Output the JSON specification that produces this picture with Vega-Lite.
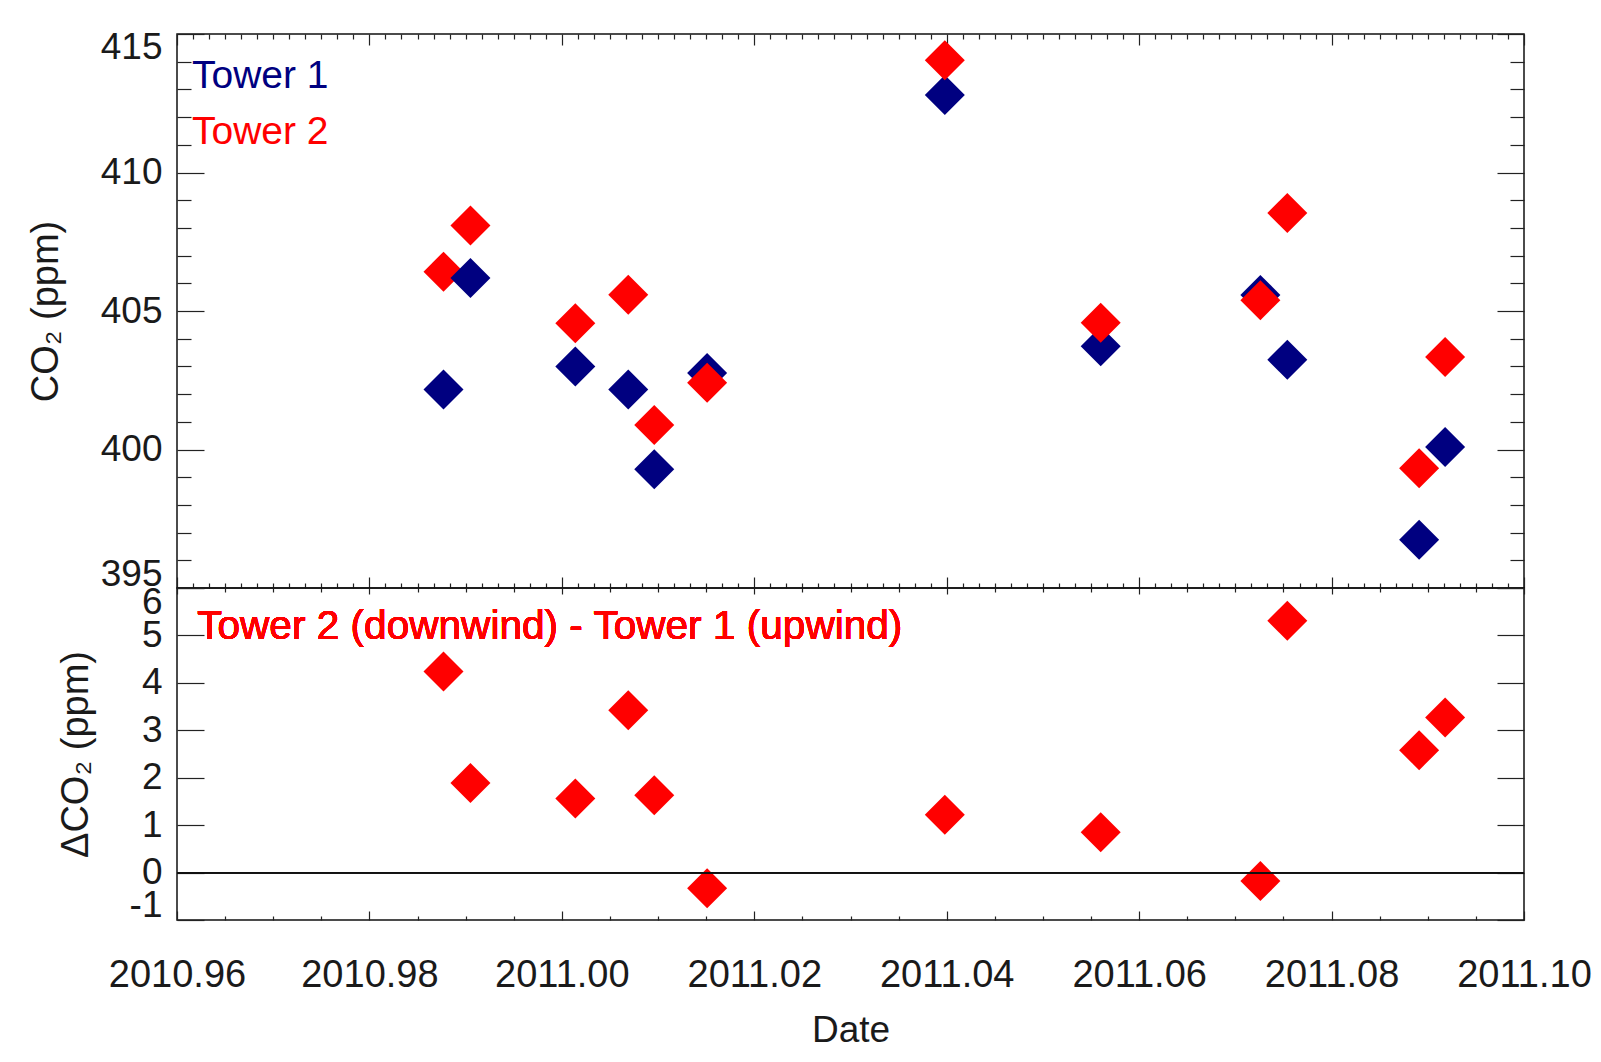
{
  "$schema": "https://vega.github.io/schema/vega-lite/v6.json",
  "background": "white",
  "padding": {"left": 26, "top": 27, "right": 40, "bottom": 10},
  "spacing": 0,
  "bounds": "flush",
  "config": {
    "view": {"stroke": "#111", "strokeWidth": 1.5},
    "font": "Liberation Sans",
    "axis": {
      "domain": false, "grid": false, "labelOverlap": false,
      "labelFont": "Liberation Sans", "labelFontSize": 37, "labelColor": "#1a1a1a",
      "titleFont": "Liberation Sans", "titleFontSize": 37, "titleFontWeight": "normal", "titleColor": "#1a1a1a",
      "tickColor": "#222", "tickWidth": 1.2
    }
  },
  "datasets": {
    "towers": [
      {"date": 2010.9877, "Tower 1": 402.17, "Tower 2": 406.42, "delta": 4.24},
      {"date": 2010.9905, "Tower 1": 406.19, "Tower 2": 408.09, "delta": 1.89},
      {"date": 2011.0014, "Tower 1": 403.0, "Tower 2": 404.56, "delta": 1.56},
      {"date": 2011.0069, "Tower 1": 402.17, "Tower 2": 405.59, "delta": 3.42},
      {"date": 2011.0096, "Tower 1": 399.29, "Tower 2": 400.88, "delta": 1.63},
      {"date": 2011.0151, "Tower 1": 402.76, "Tower 2": 402.41, "delta": -0.33},
      {"date": 2011.0398, "Tower 1": 412.8, "Tower 2": 414.05, "delta": 1.22},
      {"date": 2011.056, "Tower 1": 403.73, "Tower 2": 404.58, "delta": 0.85},
      {"date": 2011.0726, "Tower 1": 405.58, "Tower 2": 405.39, "delta": -0.18},
      {"date": 2011.0754, "Tower 1": 403.24, "Tower 2": 408.54, "delta": 5.31},
      {"date": 2011.0891, "Tower 1": 396.74, "Tower 2": 399.32, "delta": 2.58},
      {"date": 2011.0918, "Tower 1": 400.09, "Tower 2": 403.34, "delta": 3.27}
    ]
  },
  "vconcat": [
    {
      "width": 1347, "height": 554,
      "data": {"name": "towers"},
      "transform": [{"fold": ["Tower 1", "Tower 2"], "as": ["series", "co2"]}],
      "resolve": {"axis": {"x": "independent", "y": "independent"}},
      "layer": [
        {
          "mark": {"type": "point", "shape": "diamond", "filled": true, "size": 1600, "opacity": 1},
          "encoding": {
            "x": {"field": "date", "type": "quantitative",
              "scale": {"domain": [2010.96, 2011.10], "nice": false, "zero": false},
              "axis": {"orient": "bottom", "labels": false, "title": null,
                "values": [2010.96,2010.961667,2010.963333,2010.965,2010.966667,2010.968333,2010.97,2010.971667,2010.973333,2010.975,2010.976667,2010.978333,2010.98,2010.981667,2010.983333,2010.985,2010.986667,2010.988333,2010.99,2010.991667,2010.993333,2010.995,2010.996667,2010.998333,2011.0,2011.001667,2011.003333,2011.005,2011.006667,2011.008333,2011.01,2011.011667,2011.013333,2011.015,2011.016667,2011.018333,2011.02,2011.021667,2011.023333,2011.025,2011.026667,2011.028333,2011.03,2011.031667,2011.033333,2011.035,2011.036667,2011.038333,2011.04,2011.041667,2011.043333,2011.045,2011.046667,2011.048333,2011.05,2011.051667,2011.053333,2011.055,2011.056667,2011.058333,2011.06,2011.061667,2011.063333,2011.065,2011.066667,2011.068333,2011.07,2011.071667,2011.073333,2011.075,2011.076667,2011.078333,2011.08,2011.081667,2011.083333,2011.085,2011.086667,2011.088333,2011.09,2011.091667,2011.093333,2011.095,2011.096667,2011.098333,2011.1],
                "tickSize": {"condition": {"test": "abs(datum.value*50 - round(datum.value*50)) < 0.01", "value": -11}, "value": -5}}},
            "y": {"field": "co2", "type": "quantitative",
              "scale": {"domain": [395, 415], "nice": false, "zero": false},
              "axis": {"orient": "left", "title": "CO₂ (ppm)", "titlePadding": 35, "titleFontSize": 38,
                "values": [395,396,397,398,399,400,401,402,403,404,405,406,407,408,409,410,411,412,413,414,415],
                "labelExpr": "datum.value % 5 === 0 ? '' + datum.value : ''",
                "labelFlush": true, "labelFlushOffset": 5, "labelPadding": 42,
                "tickSize": {"condition": {"test": "datum.value % 5 === 0", "value": -27}, "value": -14}}},
            "color": {"field": "series", "type": "nominal",
              "scale": {"domain": ["Tower 1", "Tower 2"], "range": ["#000080", "#ff0000"]},
              "legend": {"title": null, "orient": "top-left", "offset": 22, "padding": 0,
                "labelFont": "Liberation Sans", "labelFontSize": 39, "labelOffset": -46,
                "symbolSize": 0, "symbolStrokeWidth": 0, "symbolOpacity": 0, "rowPadding": 16,
                "encode": {"labels": {"update": {"fill": {"signal": "datum.value === 'Tower 1' ? '#000080' : '#ff0000'"}}}}}}
          }
        },
        {
          "mark": {"type": "point", "opacity": 0},
          "encoding": {
            "x": {"field": "date", "type": "quantitative",
              "axis": {"orient": "top", "labels": false, "title": null,
                "values": [2010.96,2010.961667,2010.963333,2010.965,2010.966667,2010.968333,2010.97,2010.971667,2010.973333,2010.975,2010.976667,2010.978333,2010.98,2010.981667,2010.983333,2010.985,2010.986667,2010.988333,2010.99,2010.991667,2010.993333,2010.995,2010.996667,2010.998333,2011.0,2011.001667,2011.003333,2011.005,2011.006667,2011.008333,2011.01,2011.011667,2011.013333,2011.015,2011.016667,2011.018333,2011.02,2011.021667,2011.023333,2011.025,2011.026667,2011.028333,2011.03,2011.031667,2011.033333,2011.035,2011.036667,2011.038333,2011.04,2011.041667,2011.043333,2011.045,2011.046667,2011.048333,2011.05,2011.051667,2011.053333,2011.055,2011.056667,2011.058333,2011.06,2011.061667,2011.063333,2011.065,2011.066667,2011.068333,2011.07,2011.071667,2011.073333,2011.075,2011.076667,2011.078333,2011.08,2011.081667,2011.083333,2011.085,2011.086667,2011.088333,2011.09,2011.091667,2011.093333,2011.095,2011.096667,2011.098333,2011.1],
                "tickSize": {"condition": {"test": "abs(datum.value*50 - round(datum.value*50)) < 0.01", "value": -11}, "value": -5}}},
            "y": {"field": "co2", "type": "quantitative",
              "axis": {"orient": "right", "labels": false, "title": null,
                "values": [395,396,397,398,399,400,401,402,403,404,405,406,407,408,409,410,411,412,413,414,415],
                "tickSize": {"condition": {"test": "datum.value % 5 === 0", "value": -27}, "value": -14}}}
          }
        }
      ]
    },
    {
      "width": 1347, "height": 332,
      "data": {"name": "towers"},
      "resolve": {"axis": {"x": "independent", "y": "independent"}},
      "layer": [
        {
          "mark": {"type": "point", "shape": "diamond", "filled": true, "size": 1600, "color": "#ff0000", "opacity": 1},
          "encoding": {
            "x": {"field": "date", "type": "quantitative",
              "scale": {"domain": [2010.96, 2011.10], "nice": false, "zero": false},
              "axis": {"orient": "bottom", "title": "Date", "titlePadding": 13, "labelPadding": 45,
                "labelFlush": false, "labelFontSize": 38,
                "values": [2010.96,2010.965,2010.97,2010.975,2010.98,2010.985,2010.99,2010.995,2011.0,2011.005,2011.01,2011.015,2011.02,2011.025,2011.03,2011.035,2011.04,2011.045,2011.05,2011.055,2011.06,2011.065,2011.07,2011.075,2011.08,2011.085,2011.09,2011.095,2011.1],
                "labelExpr": "abs(datum.value*50 - round(datum.value*50)) < 0.01 ? format(datum.value, '.2f') : ''",
                "tickSize": {"condition": {"test": "abs(datum.value*50 - round(datum.value*50)) < 0.01", "value": -9}, "value": -4}}},
            "y": {"field": "delta", "type": "quantitative",
              "scale": {"domain": [-1, 6], "nice": false, "zero": false},
              "axis": {"orient": "left", "title": "ΔCO₂ (ppm)", "titlePadding": 34, "titleFontSize": 38,
                "values": [-1,0,1,2,3,4,5,6],
                "labelExpr": "datum.value < 0 ? '-' + abs(datum.value) : '' + datum.value",
                "labelFlush": true, "labelFlushOffset": 4, "labelPadding": 42, "tickSize": -27}}
          }
        },
        {
          "mark": {"type": "point", "opacity": 0},
          "encoding": {
            "x": {"field": "date", "type": "quantitative",
              "axis": {"orient": "top", "labels": false, "title": null,
                "values": [2010.96,2010.965,2010.97,2010.975,2010.98,2010.985,2010.99,2010.995,2011.0,2011.005,2011.01,2011.015,2011.02,2011.025,2011.03,2011.035,2011.04,2011.045,2011.05,2011.055,2011.06,2011.065,2011.07,2011.075,2011.08,2011.085,2011.09,2011.095,2011.1],
                "tickSize": {"condition": {"test": "abs(datum.value*50 - round(datum.value*50)) < 0.01", "value": -6}, "value": -4}}},
            "y": {"field": "delta", "type": "quantitative",
              "axis": {"orient": "right", "labels": false, "title": null,
                "values": [-1,0,1,2,3,4,5,6], "tickSize": -27}}
          }
        },
        {
          "mark": {"type": "rule", "color": "#111", "strokeWidth": 1.2},
          "encoding": {"y": {"datum": 0, "type": "quantitative", "axis": null}}
        },
        {
          "mark": {"type": "text", "text": "Tower 2 (downwind) - Tower 1 (upwind)", "align": "left", "baseline": "alphabetic", "font": "Liberation Sans", "fontSize": 40.6, "color": "#ff0000"},
          "encoding": {
            "x": {"datum": 2010.9621, "type": "quantitative", "axis": null},
            "y": {"datum": 4.925, "type": "quantitative", "axis": null}
          }
        }
      ]
    }
  ]
}
